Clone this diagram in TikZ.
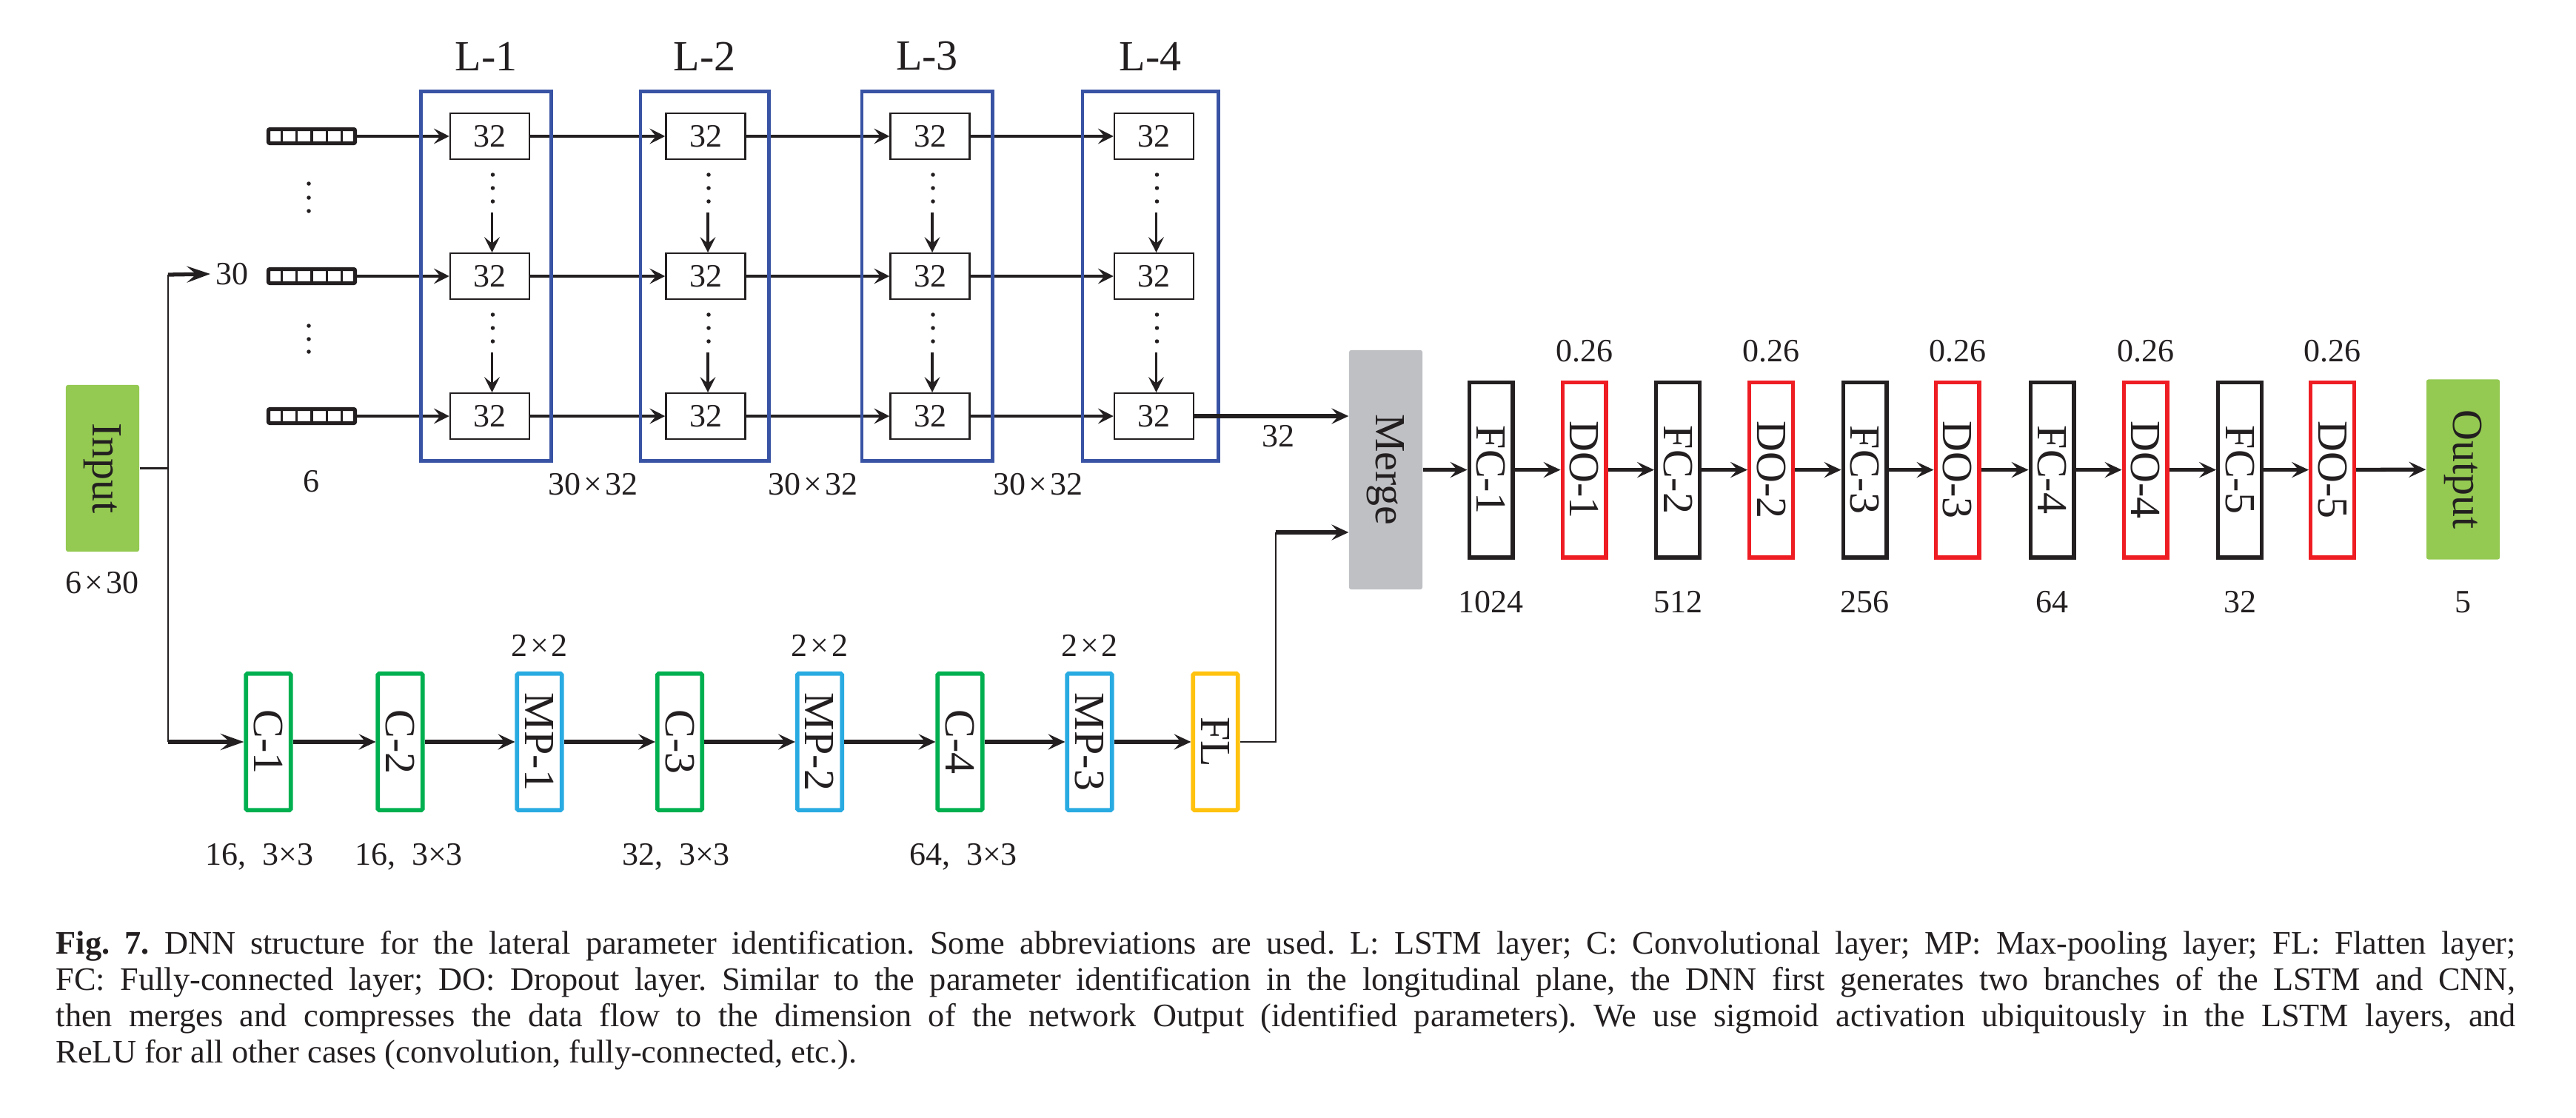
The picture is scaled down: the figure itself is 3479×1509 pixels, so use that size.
\documentclass[tikz,border=0pt]{standalone}
\usepackage{fontspec}
\setmainfont{Liberation Serif}
\usetikzlibrary{arrows.meta,calc}
\definecolor{ink}{HTML}{231F20}
\definecolor{lstmblue}{HTML}{3953A4}
\definecolor{ingreen}{HTML}{94C952}
\definecolor{mergegray}{HTML}{BFC0C4}
\definecolor{convgreen}{HTML}{00B050}
\definecolor{poolblue}{HTML}{29ABE2}
\definecolor{flyellow}{HTML}{FFC20E}
\definecolor{dored}{HTML}{EE1D23}
\newcommand{\tms}{\kern0.09em×\kern0.09em}
\begin{document}
\begin{tikzpicture}[x=0.01cm,y=-0.01cm,
  lab/.style={font=\fontsize{12.5}{15}\selectfont, inner sep=0pt, text=ink},
  ttl/.style={font=\fontsize{16.5}{20}\selectfont, inner sep=0pt, text=ink},
  cellbox/.style={draw=ink, line width=0.7pt, minimum width=1.07cm, minimum height=0.615cm, inner sep=0pt, font=\fontsize{12.5}{15}\selectfont, text=ink},
  vecbox/.style={draw=ink, line width=1.5pt, minimum width=1.17cm, minimum height=0.19cm, inner sep=0pt, rounded corners=0.6pt},
  layerbox/.style={draw=lstmblue, line width=1.4pt, minimum height=4.99cm, inner sep=0pt},
  vtext/.style={inner sep=0pt, font=\fontsize{16.5}{20}\selectfont, text=ink},
  cnnbox/.style={vtext, line width=1.6pt, minimum width=0.604cm, minimum height=1.844cm, rounded corners=0.5pt},
  fcbox/.style={vtext, line width=1.5pt, minimum width=0.587cm, minimum height=2.367cm},
  solidbox/.style={vtext, minimum width=0.99cm, rounded corners=0.8pt},
  seq/.style={draw=ink, line width=1.2pt, -{Stealth[length=5.9pt,width=5.9pt,inset=2.4pt]}},
  seqv/.style={draw=ink, line width=1.1pt, -{Stealth[length=5.9pt,width=5.9pt,inset=2.4pt]}},
  chain/.style={draw=ink, line width=1.5pt, -{Stealth[length=6.5pt,width=6pt,inset=2.6pt]}},
  chainbig/.style={draw=ink, line width=1.5pt, -{Stealth[length=9pt,width=6.3pt,inset=3.6pt]}},
  thinline/.style={draw=ink, line width=0.65pt},
  dotmark/.style={fill=ink, draw=none, circle, minimum size=0.055cm, inner sep=0pt}
]
\fill[white] (0,0) rectangle (3479,1509);
\useasboundingbox (0,0) rectangle (3479,1509);

% ---------- input ----------
\node[solidbox, fill=ingreen, minimum height=2.25cm] (inp) at (138.5,632.5) {\rotatebox{-90}{Input}};
\node[lab] at (138,787) {6\tms30};

% ---------- input sequences ----------
\foreach \r/\y in {1/184,2/373,3/562} {
  \node[vecbox] (v\r) at (421,\y) {};
  \foreach \k in {1,...,5}
    \draw[ink, line width=0.9pt] ($(v\r.north west)!\k/6!(v\r.north east)$) -- ($(v\r.south west)!\k/6!(v\r.south east)$);
}
\foreach \y in {248,267,285,440,458,475} \node[dotmark] at (417,\y) {};
\node[lab] at (420,650) {6};
\node[lab, anchor=west] (n30) at (291,370) {30};

% ---------- LSTM cells ----------
\foreach \k/\x in {1/661.5,2/953,3/1256,4/1558.5}
  \foreach \r/\y in {1/184,2/373,3/562}
    \node[cellbox] (l\k\r) at (\x,\y) {32};

\foreach \r in {1,2,3} {
  \draw[seq] (v\r) -- (l1\r);
  \draw[seq] (l1\r) -- (l2\r);
  \draw[seq] (l2\r) -- (l3\r);
  \draw[seq] (l3\r) -- (l4\r);
}
\foreach \k in {1,2,3,4}
  \foreach \r/\n in {1/2,2/3} {
    \foreach \d in {20,38,56} \node[dotmark] at ($(l\k\r.south)+(4,\d)$) {};
    \coordinate (s\k\r) at ($(l\k\r.south)+(3,71)$);
    \draw[seqv] (s\k\r) -- (s\k\r |- l\k\n.north);
  }

% ---------- LSTM layer frames ----------
\node[layerbox, minimum width=1.75cm] (L1) at (656.5,373) {};
\node[layerbox, minimum width=1.73cm] (L2) at (951.5,373) {};
\node[layerbox, minimum width=1.76cm] (L3) at (1252,373) {};
\node[layerbox, minimum width=1.83cm] (L4) at (1553.5,373) {};
\node[ttl] at (656.5,76) {L-1};
\node[ttl] at (951.5,76) {L-2};
\node[ttl] at (1252,76) {L-3};
\node[ttl] at (1553.5,76) {L-4};
\node[lab] at (801,654) {30\tms32};
\node[lab] at (1098,654) {30\tms32};
\node[lab] at (1402,654) {30\tms32};
\node[lab] at (1726,589) {32};

% ---------- merge ----------
\node[solidbox, fill=mergegray, minimum height=3.23cm] (mrg) at (1871.5,634.5) {\rotatebox{-90}{Merge}};
\draw[chain] (l43.east) -- (l43.east -| mrg.west);

% ---------- CNN branch ----------
\node[cnnbox, draw=convgreen] (cv1) at (362.5,1002) {\rotatebox{-90}{C-1}};
\node[cnnbox, draw=convgreen] (cv2) at (540.5,1002) {\rotatebox{-90}{C-2}};
\node[cnnbox, draw=poolblue]  (mp1) at (728.5,1002) {\rotatebox{-90}{MP-1}};
\node[cnnbox, draw=convgreen] (cv3) at (918,1002)   {\rotatebox{-90}{C-3}};
\node[cnnbox, draw=poolblue]  (mp2) at (1107,1002)  {\rotatebox{-90}{MP-2}};
\node[cnnbox, draw=convgreen] (cv4) at (1296.5,1002){\rotatebox{-90}{C-4}};
\node[cnnbox, draw=poolblue]  (mp3) at (1471.5,1002){\rotatebox{-90}{MP-3}};
\node[cnnbox, draw=flyellow]  (fl)  at (1641.5,1002){\rotatebox{-90}{FL}};
\draw[chain] (cv1) -- (cv2);
\draw[chain] (cv2) -- (mp1);
\draw[chain] (mp1) -- (cv3);
\draw[chain] (cv3) -- (mp2);
\draw[chain] (mp2) -- (cv4);
\draw[chain] (cv4) -- (mp3);
\draw[chain] (mp3) -- (fl);
\node[lab] at (728.5,872) {2\tms2};
\node[lab] at (1107,872) {2\tms2};
\node[lab] at (1471.5,872) {2\tms2};
\node[lab] at (350.6,1157) {16,~~3×3};
\node[lab] at (552,1157) {16,~~3×3};
\node[lab] at (913,1157) {32,~~3×3};
\node[lab] at (1301,1157) {64,~~3×3};

% ---------- branching from input ----------
\coordinate (brm) at (227,632.5);
\coordinate (brt) at (227,371);
\coordinate (brb) at (227,1002);
\draw[thinline] (inp.east) -- (brm);
\draw[thinline] (brt) -- (brb);
\draw[chainbig] (brt) -- ([xshift=-0.07cm]n30.west);
\draw[chainbig] (brb) -- (cv1.west);

% ---------- flatten to merge ----------
\coordinate (fk) at (1722.7,1002);
\coordinate (mk) at (1722.7,719);
\draw[thinline] (fl.east) -- (fk) -- (mk);
\draw[chain] (mk) -- (mk -| mrg.west);

% ---------- dense part ----------
\foreach \n/\x/\t in {fc1/2013.5/FC-1, fc2/2266/FC-2, fc3/2518.5/FC-3, fc4/2771.5/FC-4, fc5/3025/FC-5}
  \node[fcbox, draw=ink] (\n) at (\x,634.6) {\rotatebox{-90}{\t}};
\foreach \n/\x/\t in {do1/2139.5/DO-1, do2/2392/DO-2, do3/2643.5/DO-3, do4/2897.5/DO-4, do5/3150/DO-5}
  \node[fcbox, draw=dored] (\n) at (\x,634.6) {\rotatebox{-90}{\t}};
\node[solidbox, fill=ingreen, minimum height=2.43cm] (out) at (3326.5,634) {\rotatebox{-90}{Output}};
\draw[chain] (mrg) -- (fc1);
\draw[chain] (fc1) -- (do1);
\draw[chain] (do1) -- (fc2);
\draw[chain] (fc2) -- (do2);
\draw[chain] (do2) -- (fc3);
\draw[chain] (fc3) -- (do3);
\draw[chain] (do3) -- (fc4);
\draw[chain] (fc4) -- (do4);
\draw[chain] (do4) -- (fc5);
\draw[chain] (fc5) -- (do5);
\draw[chain] (do5) -- (out);
\foreach \x in {2139.5,2392,2643.5,2897.5,3150} \node[lab] at (\x,474) {0.26};
\node[lab] at (2013.5,813) {1024};
\node[lab] at (2266,813) {512};
\node[lab] at (2518.5,813) {256};
\node[lab] at (2771.5,813) {64};
\node[lab] at (3025,813) {32};
\node[lab] at (3326.5,813) {5};

% ---------- caption ----------
\node[anchor=base west, text width=33.2cm, align=justify, inner sep=0pt, text=ink,
      font=\fontsize{12.6}{13.94}\selectfont] (cap) at (75,1288)
{\frenchspacing\hyphenpenalty=10000 \exhyphenpenalty=10000 \tolerance=9999
\textbf{Fig. 7.} DNN structure for the lateral parameter identification. Some abbreviations are used. L: LSTM layer; C: Convolutional layer; MP: Max-pooling layer; FL: Flatten layer;\linebreak
FC: Fully-connected layer; DO: Dropout layer. Similar to the parameter identification in the longitudinal plane, the DNN first generates two branches of the LSTM and CNN,\linebreak
then merges and compresses the data flow to the dimension of the network Output (identified parameters). We use sigmoid activation ubiquitously in the LSTM layers, and\linebreak
ReLU for all other cases (convolution, fully-connected, etc.).};
\end{tikzpicture}
\end{document}
